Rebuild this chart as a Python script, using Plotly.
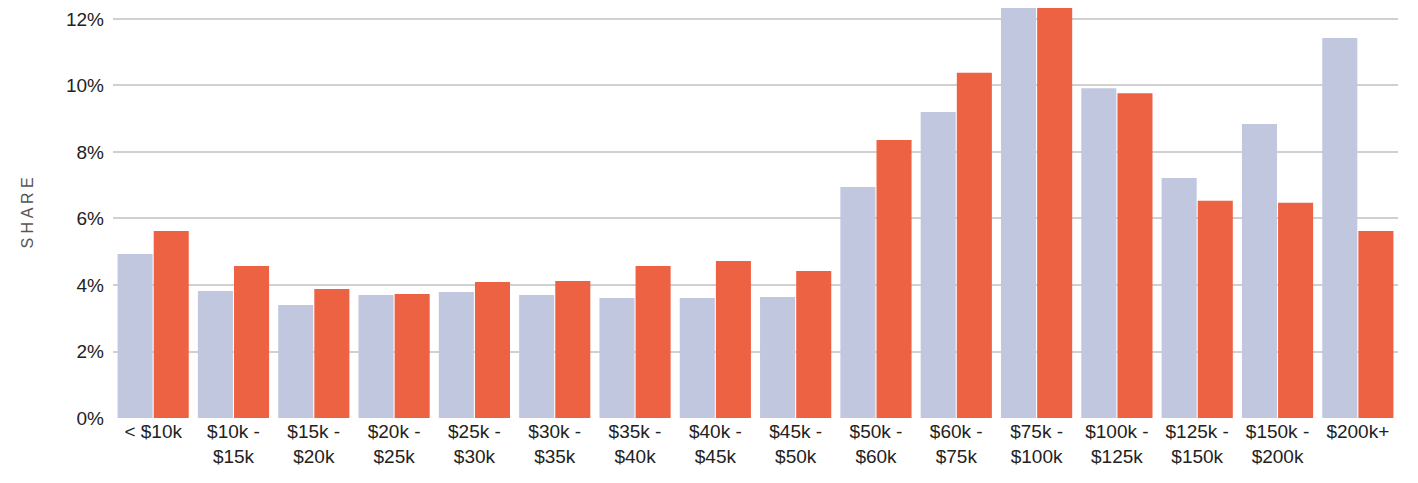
import plotly.graph_objects as go

categories = ["< $10k", "$10k -<br>$15k", "$15k -<br>$20k", "$20k -<br>$25k", "$25k -<br>$30k",
              "$30k -<br>$35k", "$35k -<br>$40k", "$40k -<br>$45k", "$45k -<br>$50k",
              "$50k -<br>$60k", "$60k -<br>$75k", "$75k -<br>$100k", "$100k -<br>$125k",
              "$125k -<br>$150k", "$150k -<br>$200k", "$200k+"]
series_a = [4.93, 3.82, 3.40, 3.70, 3.79, 3.70, 3.61, 3.61, 3.64, 6.95, 9.20, 13.0, 9.92, 7.22, 8.84, 11.43]
series_b = [5.62, 4.57, 3.88, 3.73, 4.09, 4.12, 4.57, 4.72, 4.42, 8.36, 10.38, 13.5, 9.77, 6.53, 6.47, 5.62]

fig = go.Figure()
fig.add_trace(go.Bar(x=categories, y=series_a, marker=dict(color="#c0c7df", line=dict(width=0)), name="A"))
fig.add_trace(go.Bar(x=categories, y=series_b, marker=dict(color="#ee6244", line=dict(width=0)), name="B"))

fig.update_layout(
    width=1418, height=483,
    margin=dict(l=105, r=28, t=0, b=73, autoexpand=False),
    barmode="group", bargap=0.1, bargroupgap=0.03,
    showlegend=False,
    plot_bgcolor="white", paper_bgcolor="white",
    font=dict(family="Liberation Sans, Arial", size=19, color="#222"),
    xaxis=dict(tickfont=dict(size=19), showline=False, ticks=""),
    yaxis=dict(range=[0, 12.33], tickvals=[0, 2, 4, 6, 8, 10, 12],
               ticktext=["0%", "2%", "4%", "6%", "8%", "10%", "12%"],
               gridcolor="#d0d0d0", gridwidth=1.5, zeroline=False,
               ticklabelstandoff=8,
               title=dict(text="S H A R E", font=dict(size=16, color="#555"), standoff=28)),
)
fig.write_html("out.html")
